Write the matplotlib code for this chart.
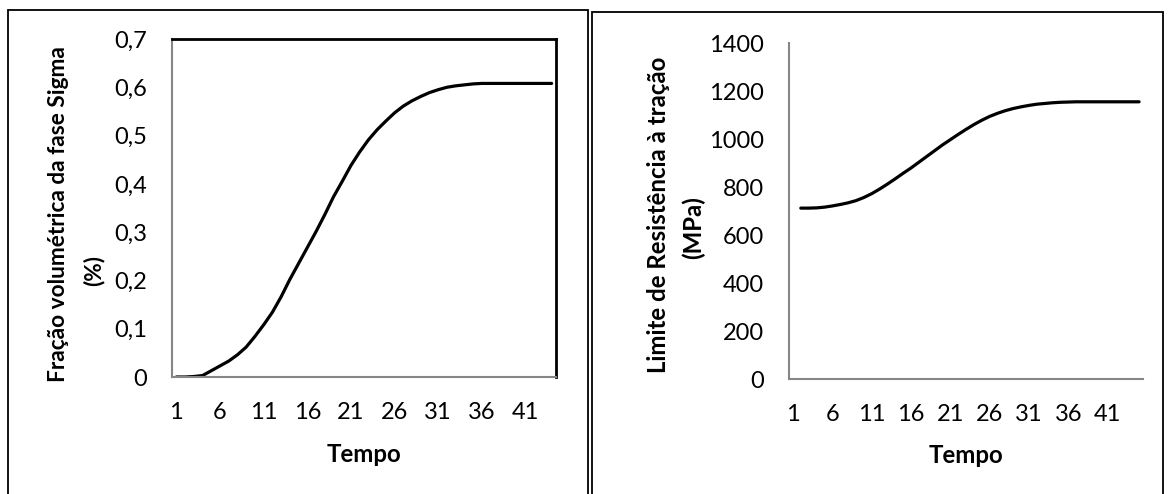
import numpy as np
import matplotlib
matplotlib.use("Agg")
import matplotlib.pyplot as plt
from matplotlib.patches import Rectangle

# ---------------- data ----------------
tempo_left = list(range(1, 45))          # 44 categories
sigma_frac = [0.000, 0.000, 0.001, 0.003, 0.013, 0.023, 0.033, 0.046, 0.062, 0.084,
              0.108, 0.134, 0.166, 0.202, 0.235, 0.268, 0.301, 0.336, 0.373, 0.405,
              0.438, 0.466, 0.491, 0.512, 0.530, 0.547, 0.561, 0.572, 0.581, 0.589,
              0.595, 0.600, 0.603, 0.605, 0.607, 0.608, 0.608, 0.608, 0.608, 0.608,
              0.608, 0.608, 0.608, 0.608]
tempo_right = list(range(1, 46))         # 45 categories, first one empty
resist = [np.nan, 712, 712, 713, 716, 721, 727, 734, 743, 756,
          772, 791, 812, 834, 857, 879, 903, 927, 951, 975,
          997, 1019, 1040, 1060, 1078, 1094, 1107, 1118, 1127, 1134,
          1140, 1145, 1148, 1151, 1153, 1154, 1155, 1155, 1155, 1155,
          1155, 1155, 1155, 1155, 1155]
xtick_labels = ["1", "6", "11", "16", "21", "26", "31", "36", "41"]
yticks_left = [0, 0.1, 0.2, 0.3, 0.4, 0.5, 0.6, 0.7]
ylabels_left = ["0", "0,1", "0,2", "0,3", "0,4", "0,5", "0,6", "0,7"]
yticks_right = [0, 200, 400, 600, 800, 1000, 1200, 1400]

ylabel_left = ["Fração volumétrica da fase Sigma", "(%)"]
ylabel_right = ["Limite de Resistência à tração", "(MPa)"]
xlabel = "Tempo"

# ---------------- style ----------------
plt.rcParams['font.family'] = ['Lato', 'DejaVu Sans']
W, H = 1171, 494
fig = plt.figure(figsize=(W / 100, H / 100), dpi=100)
fig.patch.set_facecolor("white")

def px_axes(x0, y0, x1, y1):
    return fig.add_axes([x0 / W, 1 - y1 / H, (x1 - x0) / W, (y1 - y0) / H])

def px_text(x, y, s, **kw):
    fig.text(x / W, 1 - y / H, s, ha="center", va="center", **kw)

# panel borders
for (bx0, by0, bx1, by1) in [(8, 10, 588, 500), (592, 12, 1163, 500)]:
    fig.patches.append(Rectangle((bx0 / W, 1 - by1 / H), (bx1 - bx0) / W, (by1 - by0) / H,
                                 transform=fig.transFigure, fill=False,
                                 edgecolor="black", linewidth=1.3))

GRAY = "#868686"
TICK_FS = 17
LABEL_FS = 17.3
YLAB_L_FS = 16.3

def style(ax, tempo, ymin, ymax, yt, ylabs, boxed):
    n = len(tempo)
    ax.set_xlim(0.5, n + 0.5)
    ax.set_ylim(ymin, ymax)
    xt = [int(t) for t in xtick_labels]
    ax.set_xticks(xt)
    ax.set_xticklabels(xtick_labels, fontsize=TICK_FS)
    ax.set_yticks(yt)
    ax.set_yticklabels(ylabs, fontsize=TICK_FS)
    ax.tick_params(axis="both", length=0)
    ax.tick_params(axis="x", pad=18)
    ax.tick_params(axis="y", pad=18)
    for s in ["left", "bottom"]:
        ax.spines[s].set_color(GRAY)
        ax.spines[s].set_linewidth(1.5)
    if boxed:
        for s in ["top", "right"]:
            ax.spines[s].set_color("black")
            ax.spines[s].set_linewidth(2.0)
    else:
        for s in ["top", "right"]:
            ax.spines[s].set_visible(False)

# left chart
axL = px_axes(172, 39, 556, 377)
axL.plot(tempo_left, sigma_frac, color="black", linewidth=2.3, solid_capstyle="round")
style(axL, tempo_left, 0, 0.7, yticks_left, ylabels_left, True)
px_text(59, 214, ylabel_left[0], rotation=90, fontsize=YLAB_L_FS, fontweight="bold")
px_text(94, 270, ylabel_left[1], rotation=90, fontsize=YLAB_L_FS, fontweight="bold")
px_text(364, 454, xlabel, fontsize=LABEL_FS, fontweight="bold")

# right chart
axR = px_axes(789, 43, 1143, 379)
axR.plot(tempo_right, resist, color="black", linewidth=2.3, solid_capstyle="round")
style(axR, tempo_right, 0, 1400, yticks_right, [str(v) for v in yticks_right], False)
px_text(658, 215, ylabel_right[0], rotation=90, fontsize=LABEL_FS, fontweight="bold")
px_text(693, 228, ylabel_right[1], rotation=90, fontsize=LABEL_FS, fontweight="bold")
px_text(966, 455, xlabel, fontsize=LABEL_FS, fontweight="bold")

fig.savefig("out.png", dpi=100, facecolor="white")
